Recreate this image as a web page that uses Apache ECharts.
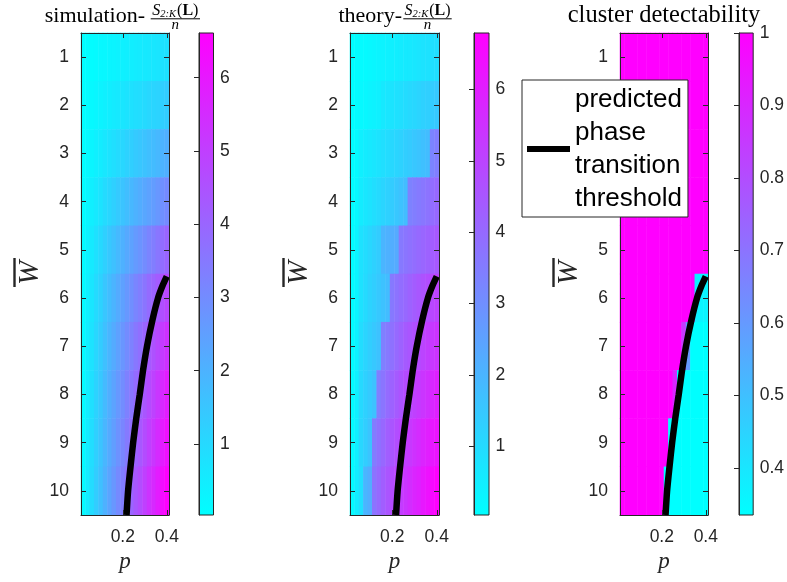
<!DOCTYPE html>
<html><head><meta charset="utf-8">
<script src="https://cdn.jsdelivr.net/npm/echarts@6/dist/echarts.min.js"></script>
<style>html,body{margin:0;padding:0;background:#fff}#c{width:787px;height:582px}</style>
</head><body><div id="c"></div><script>
// ---- data ----
const pValues = [0.02,0.04,0.06,0.08,0.10,0.12,0.14,0.16,0.18,0.20,0.22,0.24,0.26,0.28,0.30,0.32,0.34,0.36,0.38,0.40];
const wValues = [1,2,3,4,5,6,7,8,9,10];
const pTicks = [0.2, 0.4];
const wTicks = [1,2,3,4,5,6,7,8,9,10];
const cbTicksSim = [1,2,3,4,5,6];
const cbTicksTheory = [1,2,3,4,5,6];
const cbTicksDetect = [0.4,0.5,0.6,0.7,0.8,0.9,1];

const simValues = [
  [0.03,0.06,0.11,0.16,0.20,0.24,0.28,0.32,0.36,0.40,0.44,0.48,0.51,0.55,0.59,0.62,0.66,0.69,0.74,0.78],
  [0.03,0.11,0.18,0.26,0.33,0.41,0.48,0.54,0.61,0.67,0.74,0.81,0.87,0.92,0.99,1.06,1.11,1.17,1.25,1.32],
  [0.04,0.17,0.29,0.42,0.53,0.65,0.76,0.86,0.97,1.07,1.18,1.28,1.39,1.47,1.58,1.68,1.76,1.87,2.00,2.10],
  [0.06,0.24,0.43,0.61,0.76,0.95,1.10,1.25,1.40,1.56,1.71,1.86,2.01,2.14,2.29,2.44,2.56,2.71,2.90,3.05],
  [0.08,0.32,0.56,0.80,1.00,1.24,1.44,1.64,1.84,2.04,2.24,2.44,2.64,2.80,3.00,3.20,3.36,3.56,3.80,4.00],
  [0.10,0.38,0.67,0.96,1.20,1.49,1.73,1.97,2.21,2.45,2.69,2.93,3.17,3.36,3.60,3.84,4.03,4.27,4.56,4.80],
  [0.11,0.43,0.75,1.07,1.34,1.66,1.93,2.19,2.46,2.73,3.00,3.26,3.53,3.75,4.01,4.28,4.49,4.76,5.08,5.35],
  [0.12,0.47,0.82,1.17,1.46,1.81,2.11,2.40,2.69,2.98,3.28,3.57,3.86,4.10,4.39,4.68,4.91,5.21,5.56,5.85],
  [0.12,0.50,0.87,1.24,1.55,1.92,2.23,2.54,2.85,3.16,3.47,3.78,4.09,4.34,4.65,4.96,5.21,5.52,5.89,6.20],
  [0.13,0.53,0.93,1.32,1.65,2.05,2.38,2.71,3.04,3.37,3.70,4.03,4.36,4.63,4.96,5.29,5.55,5.88,6.28,6.61]
];
const theoryValues = [
  [0.04,0.09,0.14,0.18,0.23,0.27,0.32,0.36,0.41,0.45,0.50,0.54,0.59,0.63,0.68,0.72,0.77,0.81,0.86,0.90],
  [0.05,0.12,0.19,0.26,0.32,0.39,0.45,0.62,0.69,0.76,0.83,0.90,0.97,1.04,1.11,1.18,1.25,1.32,1.40,1.48],
  [0.06,0.14,0.45,0.53,0.62,0.70,0.79,0.88,0.97,1.06,1.15,1.24,1.33,1.42,1.51,1.60,1.70,1.80,3.30,3.45],
  [0.07,0.20,0.55,0.67,0.79,0.91,1.03,1.15,1.27,1.40,1.53,1.66,1.80,3.35,3.45,3.55,3.65,3.75,3.90,4.05],
  [0.08,0.30,0.80,0.95,1.10,1.25,1.40,2.00,2.10,2.20,2.30,3.60,3.70,3.80,3.90,4.00,4.10,4.20,4.32,4.45],
  [0.09,0.30,0.80,1.00,1.20,1.35,1.50,1.65,1.80,3.60,3.75,3.90,4.05,4.20,4.35,4.50,4.62,4.75,4.90,5.05],
  [0.10,0.35,0.95,1.15,1.35,1.50,1.65,3.40,3.60,3.80,4.00,4.20,4.40,4.55,4.70,4.85,5.00,5.15,5.30,5.45],
  [0.11,0.40,1.05,1.25,1.45,1.65,3.45,3.70,3.95,4.20,4.40,4.60,4.80,4.95,5.10,5.25,5.40,5.55,5.75,5.95],
  [0.12,0.45,1.10,1.35,1.60,3.50,3.80,4.05,4.30,4.55,4.75,4.95,5.15,5.30,5.50,5.65,5.85,6.00,6.15,6.30],
  [0.13,0.50,0.90,2.00,2.20,3.75,4.00,4.30,4.55,4.80,5.00,5.20,5.40,5.60,5.80,5.95,6.15,6.35,6.55,6.79]
];
const detectValues = [
  [1,1,1,1,1,1,1,1,1,1,1,1,1,1,1,1,1,1,1,1],
  [1,1,1,1,1,1,1,1,1,1,1,1,1,1,1,1,1,1,1,1],
  [1,1,1,1,1,1,1,1,1,1,1,1,1,1,1,1,1,1,1,1],
  [1,1,1,1,1,1,1,1,1,1,1,1,1,1,1,1,1,1,1,1],
  [1,1,1,1,1,1,1,1,1,1,1,1,1,1,1,1,1,1,1,1],
  [1,1,1,1,1,1,1,1,1,1,1,1,1,1,1,1,1,0.37,0.36,0.36],
  [1,1,1,1,1,1,1,1,1,1,1,1,1,1,0.85,0.6,0.335,0.335,0.335,0.335],
  [1,1,1,1,1,1,1,1,1,1,1,1,0.9,0.335,0.335,0.335,0.335,0.335,0.335,0.335],
  [1,1,1,1,1,1,1,1,1,1,1,0.335,0.335,0.335,0.335,0.335,0.335,0.335,0.335,0.335],
  [1,1,1,1,1,1,1,1,1,1,0.335,0.335,0.335,0.335,0.335,0.335,0.335,0.335,0.335,0.335]
];
const curveP = [0.400,0.380,0.360,0.335,0.310,0.292,0.277,0.261,0.247,0.235,0.224,0.217];
const curveW = [5.55,5.75,6.00,6.45,7.00,7.50,8.00,8.50,9.00,9.50,10.00,10.50];
const legendName = 'predicted phase transition threshold';

// ---- layout ----
const AX = '#262626';
const TOP = 33, H = 482;
const panels = [
  {left:81,  width:88, cbLeft:199, cbWidth:14.5, values:simValues,    min:0.03,  max:6.61, cbTicks:cbTicksSim},
  {left:350, width:89, cbLeft:474, cbWidth:15,   values:theoryValues, min:0.04,  max:6.79, cbTicks:cbTicksTheory},
  {left:620, width:88, cbLeft:739, cbWidth:14.5, values:detectValues, min:0.335, max:1,    cbTicks:cbTicksDetect}
];
const cool = ['#00ffff', '#ff00ff'];
const tickFont = {fontFamily:'Liberation Sans, Arial, sans-serif', fontSize:17.5, color:AX};

const grid = [], xAxis = [], yAxis = [], series = [], visualMap = [], graphic = [];

panels.forEach((pn, i) => {
  const g0 = grid.length;
  grid.push({left:pn.left, top:TOP, width:pn.width, height:H, containLabel:false});
  grid.push({left:pn.left, top:TOP, width:pn.width, height:H, containLabel:false});
  grid.push({left:pn.cbLeft, top:TOP, width:pn.cbWidth, height:H, containLabel:false, show:true,
    borderColor:AX, borderWidth:1,
    backgroundColor:{type:'linear', x:0, y:1, x2:0, y2:0, colorStops:[{offset:0,color:cool[0]},{offset:1,color:cool[1]}]}});
  const xi = xAxis.length, yi = yAxis.length;
  xAxis.push({type:'category', gridIndex:g0, data:pValues.map(String), show:false});
  yAxis.push({type:'category', gridIndex:g0, data:wValues.map(String), inverse:true, show:false});
  const axLine = {show:true, lineStyle:{color:AX, width:1}};
  const axTick = (vals) => ({show:true, inside:true, length:5, customValues:vals, lineStyle:{color:AX, width:1}});
  xAxis.push({type:'value', gridIndex:g0+1, position:'bottom', min:0.01, max:0.41, z:3,
    axisLine:axLine, axisTick:axTick(pTicks), splitLine:{show:false},
    axisLabel:Object.assign({customValues:pTicks, margin:13}, tickFont),
    name:'p', nameLocation:'middle', nameGap:34,
    nameTextStyle:{fontFamily:'Liberation Serif, serif', fontStyle:'italic', fontSize:23, color:AX}});
  xAxis.push({type:'value', gridIndex:g0+1, position:'top', min:0.01, max:0.41, z:3,
    axisLine:axLine, axisTick:axTick(pTicks), splitLine:{show:false}, axisLabel:{show:false}});
  yAxis.push({type:'value', gridIndex:g0+1, position:'left', min:0.5, max:10.5, inverse:true, z:3,
    axisLine:axLine, axisTick:axTick(wTicks), splitLine:{show:false},
    axisLabel:Object.assign({customValues:wTicks, margin:12}, tickFont)});
  yAxis.push({type:'value', gridIndex:g0+1, position:'right', min:0.5, max:10.5, inverse:true, z:3,
    axisLine:axLine, axisTick:axTick(wTicks), splitLine:{show:false}, axisLabel:{show:false}});
  xAxis.push({type:'value', gridIndex:g0+2, show:false, min:0, max:1});
  yAxis.push({type:'value', gridIndex:g0+2, position:'right', min:pn.min, max:pn.max, z:3,
    axisLine:axLine, axisTick:axTick(pn.cbTicks), splitLine:{show:false},
    axisLabel:Object.assign({customValues:pn.cbTicks, margin:6.5}, tickFont)});

  const data = [];
  pn.values.forEach((row, r) => row.forEach((v, c) => data.push([c, r, v])));
  const si = series.length;
  series.push({type:'heatmap', xAxisIndex:xi, yAxisIndex:yi, data:data, z:1, emphasis:{disabled:true}});
  visualMap.push({type:'continuous', show:false, seriesIndex:si, min:pn.min, max:pn.max, dimension:2,
    inRange:{color:cool}});
  series.push({type:'line', name:legendName, xAxisIndex:xi+1, yAxisIndex:yi+1,
    data:curveP.map((p, k) => [p, curveW[k]]), showSymbol:false, symbol:'none', smooth:0.2, z:2,
    itemStyle:{color:'#000'},
    lineStyle:{color:'#000', width:6.5, cap:'butt'}, emphasis:{disabled:true}, silent:true});

  const wx = pn.left - 51;
  graphic.push({type:'text', x:wx, y:273, rotation:Math.PI/2,
    style:{text:'W', font:'italic 29px "Liberation Serif", serif', fill:AX, align:'center', verticalAlign:'middle'}});
  graphic.push({type:'line', shape:{x1:pn.left-66.5, y1:258, x2:pn.left-66.5, y2:287}, style:{stroke:AX, lineWidth:2.4}});
});

function fracTitle(prefix, prefixRight, barL, barR) {
  const cx = (barL + barR) / 2;
  graphic.push({type:'text', x:prefixRight, y:16.5,
    style:{text:prefix, font:'22px "Liberation Serif", serif', fill:'#000', align:'right', verticalAlign:'middle'}});
  graphic.push({type:'text', x:cx, y:11,
    style:{text:'{s|S}{sub|2:K}{p|(}{b|L}{p|)}', align:'center', verticalAlign:'middle', fill:'#000',
      rich:{
        s:{font:'italic 16px "Liberation Serif", serif', fill:'#000'},
        sub:{font:'italic 10.5px "Liberation Serif", serif', fill:'#000', padding:[6,1,0,0]},
        p:{font:'16px "Liberation Serif", serif', fill:'#000'},
        b:{font:'bold 16px "Liberation Serif", serif', fill:'#000'}
      }}});
  graphic.push({type:'line', shape:{x1:barL, y1:18.8, x2:barR, y2:18.8}, style:{stroke:'#000', lineWidth:1}});
  graphic.push({type:'text', x:cx, y:25.5,
    style:{text:'n', font:'italic 15px "Liberation Serif", serif', fill:'#000', align:'center', verticalAlign:'middle'}});
}
fracTitle('simulation-', 145, 150.7, 200);
fracTitle('theory-', 402, 403.3, 451.7);
graphic.push({type:'text', x:664, y:16,
  style:{text:'cluster detectability', font:'24.5px "Liberation Serif", serif', fill:'#000', align:'center', verticalAlign:'middle'}});

const option = {
  animation:false,
  backgroundColor:'#fff',
  grid, xAxis, yAxis, series, visualMap, graphic,
  legend:{
    data:[{name:legendName, icon:'rect', itemStyle:{color:'#000'}}],
    left:522, top:80, orient:'vertical', selectedMode:false, z:10,
    backgroundColor:'#fff', borderColor:AX, borderWidth:1, borderRadius:0,
    padding:[3,6,2,5], itemWidth:43, itemHeight:6,
    formatter:() => 'predicted\nphase\ntransition\nthreshold',
    textStyle:{fontFamily:'Liberation Sans, Arial, sans-serif', fontSize:26, lineHeight:33, color:'#000'}
  }
};
const chart = echarts.init(document.getElementById('c'), null, {renderer:'canvas'});
chart.setOption(option);
</script></body></html>
